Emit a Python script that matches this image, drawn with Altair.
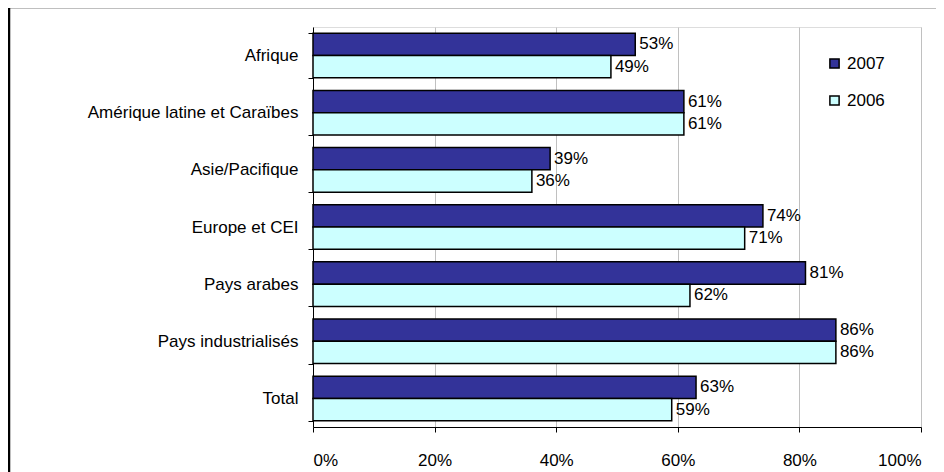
import altair as alt
import pandas as pd

regions = ["Afrique", "Amérique latine et Caraïbes", "Asie/Pacifique",
           "Europe et CEI", "Pays arabes", "Pays industrialisés", "Total"]
v2007 = [0.53, 0.61, 0.39, 0.74, 0.81, 0.86, 0.63]
v2006 = [0.49, 0.61, 0.36, 0.71, 0.62, 0.86, 0.59]
years = ["2007", "2006"]
colors = ["#333399", "#CCFFFF"]

rows = []
for r, a, b in zip(regions, v2007, v2006):
    rows.append({"region": r, "year": "2007", "value": a})
    rows.append({"region": r, "year": "2006", "value": b})
df = pd.DataFrame(rows)

FONT = "Liberation Sans"
FS = 17

y_enc = alt.Y("region:N", sort=regions, title=None,
              scale=alt.Scale(paddingInner=0.22, paddingOuter=0.11),
              axis=alt.Axis(tickBand="extent", grid=False, labelFontSize=FS,
                            labelFont=FONT, labelColor="black", tickColor="black",
                            domainColor="black", tickSize=5, labelPadding=10,
                            labelLimit=400))
yoff = alt.YOffset("year:N", sort=years, scale=alt.Scale(paddingInner=0, paddingOuter=0))
x_enc = alt.X("value:Q", title=None,
              scale=alt.Scale(domain=[0, 1], nice=False),
              axis=alt.Axis(format=".0%", values=[0, 0.2, 0.4, 0.6, 0.8, 1.0],
                            labelFontSize=FS, labelFont=FONT, labelColor="black",
                            tickColor="black", domainColor="black", tickSize=5,
                            labelPadding=20, gridColor="#c0c0c0", grid=True))

bars = alt.Chart(df).mark_bar(stroke="black", strokeWidth=1.5).encode(
    y=y_enc, yOffset=yoff, x=x_enc,
    color=alt.Color("year:N", sort=years,
                    scale=alt.Scale(domain=years, range=colors),
                    legend=alt.Legend(title=None, orient="none", legendX=513, legendY=28,
                                      symbolType="square", symbolSize=85,
                                      symbolStrokeColor="black", symbolStrokeWidth=1.5,
                                      labelFontSize=FS, labelFont=FONT, labelColor="black",
                                      rowPadding=19, labelOffset=4)),
)

labels = alt.Chart(df).mark_text(align="left", baseline="middle", dx=4,
                                 fontSize=FS, font=FONT, color="black").encode(
    y=alt.Y("region:N", sort=regions), yOffset=alt.YOffset("year:N", sort=years),
    x="value:Q", text=alt.Text("value:Q", format=".0%"),
)

frame_df = pd.DataFrame({"f": [1]})
frame = alt.Chart(frame_df).mark_rect(fill=None, stroke="black", strokeWidth=2.5).encode(
    x=alt.value(-304), x2=alt.value(700), y=alt.value(-20), y2=alt.value(600),
)

chart = alt.layer(frame, bars, labels).properties(
    width=608, height=400,
    autosize=alt.AutoSizeParams(type="none"),
    padding={"left": 305, "top": 19, "right": 15, "bottom": 45},
).configure_view(stroke=None).configure(font=FONT)

chart.save("out.html", embed_options={"renderer": "svg", "actions": False})
